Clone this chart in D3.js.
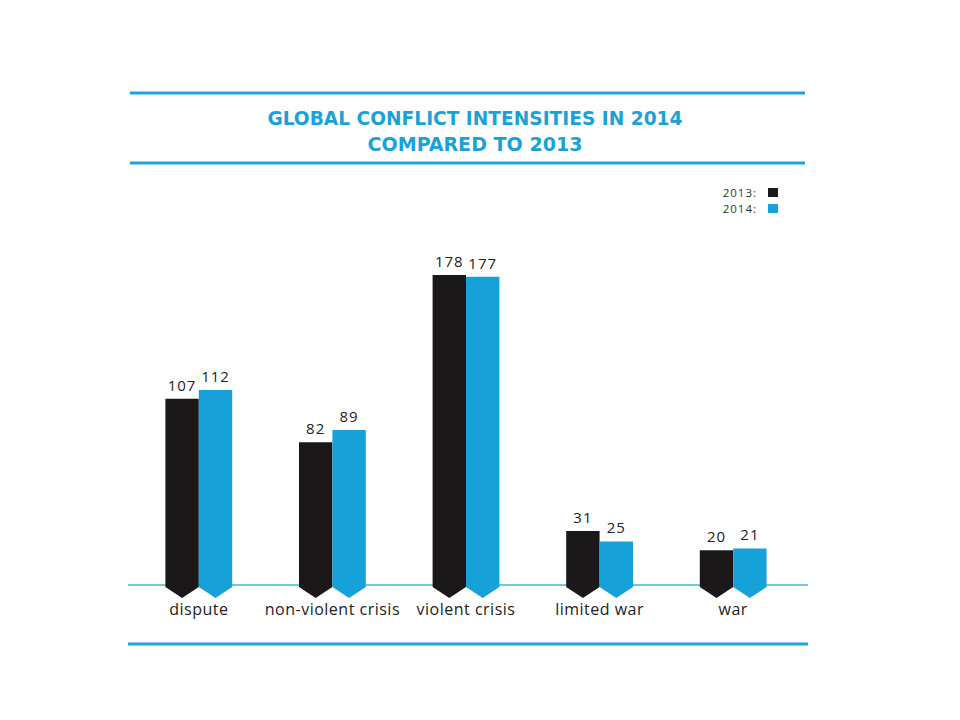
<!DOCTYPE html>
<html><head><meta charset="utf-8">
<script src="https://cdn.jsdelivr.net/npm/d3@7"></script>
<style>body{margin:0;background:#fff;}svg{display:block;}</style>
</head><body>
<svg id="chart" width="960" height="720"></svg>
<script>
const categories = ["dispute", "non-violent crisis", "violent crisis", "limited war", "war"];
const seriesNames = ["2013", "2014"];
const values2013 = [107, 82, 178, 31, 20];
const values2014 = [112, 89, 177, 25, 21];
const titleLines = ["GLOBAL CONFLICT INTENSITIES IN 2014", "COMPARED TO 2013"];

const colors = {"2013": "#1b1819", "2014": "#16a1d9"};
const svg = d3.select("#chart");
const baseY = 585;

const x = d3.scaleBand().domain(categories).range([132, 800]).paddingInner(0.5).paddingOuter(0.25);
const xs = d3.scaleBand().domain(seriesNames).range([0, x.bandwidth()]);
const y = d3.scaleLinear().domain([0, 178]).range([baseY, 275]);

// horizontal rules
const ruleColor = "#1ba3db";
[[130, 805, 93], [130, 805, 163], [128, 808, 644]].forEach(([a, b, yy]) => {
  svg.append("line").attr("x1", a).attr("x2", b).attr("y1", yy).attr("y2", yy)
    .attr("stroke", ruleColor).attr("stroke-width", 3);
});

// title
svg.append("g").selectAll("text").data(titleLines).join("text")
  .attr("x", 475).attr("y", (d, i) => 125 + i * 26)
  .attr("text-anchor", "middle")
  .attr("font-family", "'DejaVu Sans Condensed', 'Open Sans', sans-serif")
  .attr("font-weight", "bold").attr("font-size", 20)
  .attr("fill", "#1aa2d6")
  .attr("textLength", (d, i) => i === 0 ? 415 : 215)
  .attr("lengthAdjust", "spacingAndGlyphs")
  .text(d => d);

// legend
const lg = svg.append("g");
seriesNames.forEach((s, i) => {
  lg.append("text").attr("x", 757).attr("y", 197 + i * 16).attr("text-anchor", "end")
    .attr("font-family", "'Open Sans', sans-serif").attr("font-size", 11.5)
    .attr("letter-spacing", 1).attr("fill", "#333")
    .text(s + ":");
  lg.append("rect").attr("x", 768).attr("y", 188 + i * 16).attr("width", 10).attr("height", 9)
    .attr("fill", colors[s]);
});

// axis line
svg.append("line").attr("x1", 128).attr("x2", 808).attr("y1", baseY).attr("y2", baseY)
  .attr("stroke", "#6fcbd2").attr("stroke-width", 2);

const data = [];
categories.forEach((c, i) => {
  data.push({cat: c, s: "2013", v: values2013[i]});
  data.push({cat: c, s: "2014", v: values2014[i]});
});

function barPath(d) {
  const x0 = x(d.cat) + xs(d.s);
  const w = xs.bandwidth();
  const top = y(d.v);
  const p = d3.path();
  p.moveTo(x0, top);
  p.lineTo(x0 + w, top);
  p.lineTo(x0 + w, baseY + 2);
  p.lineTo(x0 + w / 2, baseY + 13);
  p.lineTo(x0, baseY + 2);
  p.closePath();
  return p.toString();
}

svg.append("g").selectAll("path").data(data).join("path")
  .attr("d", barPath).attr("fill", d => colors[d.s]);

svg.append("g").selectAll("text").data(data).join("text")
  .attr("x", d => x(d.cat) + xs(d.s) + xs.bandwidth() / 2)
  .attr("y", d => y(d.v) - 8)
  .attr("text-anchor", "middle")
  .attr("font-family", "'Open Sans', sans-serif").attr("font-size", 15)
  .attr("letter-spacing", 1).attr("fill", "#222")
  .text(d => d.v);

// category labels
svg.append("g").selectAll("text").data(categories).join("text")
  .attr("x", d => x(d) + x.bandwidth() / 2).attr("y", 615)
  .attr("text-anchor", "middle")
  .attr("font-family", "'Open Sans', sans-serif").attr("font-size", 16)
  .attr("letter-spacing", 0.5).attr("fill", "#222")
  .text(d => d);
</script>
</body></html>
